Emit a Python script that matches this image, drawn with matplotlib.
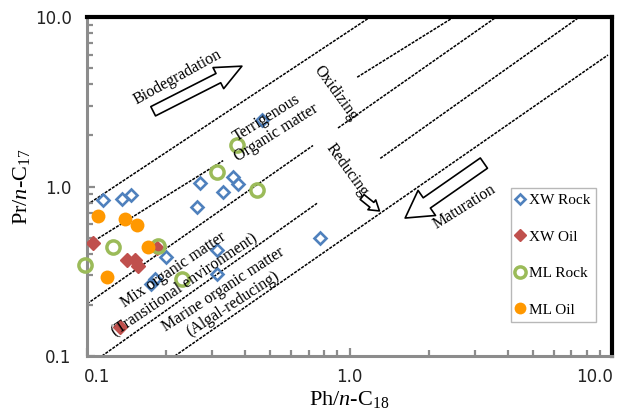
import numpy as np
import matplotlib
matplotlib.use("Agg")
import matplotlib.pyplot as plt
from matplotlib.ticker import FixedLocator, FixedFormatter, LogLocator, NullFormatter
from matplotlib.transforms import ScaledTranslation

plt.rcParams['font.family'] = ['Liberation Serif', 'DejaVu Serif']
plt.rcParams['mathtext.fontset'] = 'custom'
plt.rcParams['mathtext.rm'] = 'Liberation Serif'
plt.rcParams['mathtext.it'] = 'Liberation Serif:italic'

# Ph/n-C18 (x) and Pr/n-C17 (y)
xw_rock_ph = [0.115, 0.136, 0.147, 0.270, 0.262, 0.330, 0.360, 0.376, 0.464,
              0.200, 0.175, 0.182, 0.313, 0.313, 0.773]
xw_rock_pr = [0.827, 0.844, 0.891, 1.05, 0.752, 0.928, 1.14, 1.03, 2.47,
              0.384, 0.266, 0.285, 0.422, 0.305, 0.497]
xw_oil_ph = [0.105, 0.142, 0.152, 0.156, 0.185, 0.134]
xw_oil_pr = [0.464, 0.368, 0.368, 0.340, 0.434, 0.148]
ml_rock_ph = [0.098, 0.126, 0.186, 0.231, 0.313, 0.373, 0.445]
ml_rock_pr = [0.344, 0.437, 0.446, 0.285, 1.22, 1.76, 0.960]
ml_oil_ph = [0.110, 0.140, 0.155, 0.171, 0.119]
ml_oil_pr = [0.670, 0.643, 0.593, 0.440, 0.292]

# boundary lines: start/end points, plus the x stretch left blank for labels
line_x0 = [0.100, 0.100, 0.100, 0.114, 0.216]
line_y0 = [0.78, 0.45, 0.203, 0.100, 0.100]
line_x1 = [1.20, 2.50, 3.58, 7.42, 9.66]
line_y1 = [10.0, 10.0, 9.86, 9.86, 5.97]
line_gap = [None, (0.330, 1.07), (0.726, 0.904), (0.752, 1.31), None]

fig = plt.figure(figsize=(6.22, 4.17), dpi=100)
ax = fig.add_axes([0.1399, 0.1463, 0.844, 0.8129])
ax.set_xscale('log')
ax.set_yscale('log')
ax.set_xlim(0.1, 10)
ax.set_ylim(0.1, 10)

for x0, y0, x1, y1, gap in zip(line_x0, line_y0, line_x1, line_y1, line_gap):
    m = (np.log10(y1) - np.log10(y0)) / (np.log10(x1) - np.log10(x0))
    f = lambda x: y0 * (x / x0) ** m
    pieces = [(x0, x1)] if gap is None else [(x0, gap[0]), (gap[1], x1)]
    for a, b in pieces:
        ax.plot([a, b], [f(a), f(b)], color='black', lw=1.1,
                linestyle=(0, (2.0, 0.8)), zorder=1)

ax.plot(xw_rock_ph, xw_rock_pr, 'D', ms=6.3, mfc='none', mec='#4F81BD',
        mew=1.9, label='XW Rock', zorder=3)
ax.plot(xw_oil_ph, xw_oil_pr, 'D', ms=7.2, mfc='#C0504D', mec='#C0504D',
        mew=1, label='XW Oil', zorder=4)
ax.plot(ml_rock_ph, ml_rock_pr, 'o', ms=9.5, mfc='none', mec='#9BBB59',
        mew=2.5, label='ML Rock', zorder=5, clip_on=False)
ax.plot(ml_oil_ph, ml_oil_pr, 'o', ms=10, mfc='#FF9800', mec='#FF9800',
        mew=0, label='ML Oil', zorder=6)

# hollow arrows
def hollow_arrow(tail, head, hl, hw, tw):
    ax.annotate('', xy=head, xytext=tail, xycoords='axes fraction',
                textcoords='axes fraction',
                arrowprops=dict(arrowstyle=f'simple,head_length={hl},head_width={hw},tail_width={tw}',
                                fc='white', ec='black', lw=1.2,
                                shrinkA=0, shrinkB=0, mutation_scale=10))

hollow_arrow((0.126, 0.722), (0.295, 0.855), 1.9, 1.7, 0.75)
hollow_arrow((0.756, 0.569), (0.606, 0.407), 1.9, 2.2, 0.9)
hollow_arrow((0.524, 0.469), (0.557, 0.428), 0.7, 0.9, 0.45)

notes = [
    ('Biodegradation', 0.173, 0.823, 29),
    ('Terrigenous\nOrganic matter', 0.352, 0.681, 32),
    ('Oxidizing', 0.474, 0.776, -54),
    ('Reducing', 0.495, 0.549, -54),
    ('Maturation', 0.720, 0.440, 32),
    ('Mix organic matter\n(Transitional environment)', 0.175, 0.233, 34),
    ('Marine organic matter\n(Algal-reducing)', 0.269, 0.174, 33),
]
for txt, x, y, rot in notes:
    ax.text(x, y, txt, transform=ax.transAxes, rotation=rot, fontsize=11.5,
            ha='center', va='center', rotation_mode='anchor',
            multialignment='center', linespacing=1.15, zorder=7)

# axes styling
for side in ['left', 'bottom']:
    ax.spines[side].set_color('#8C8C8C')
    ax.spines[side].set_linewidth(2.2)
for side in ['top', 'right']:
    ax.spines[side].set_color('black')
    ax.spines[side].set_linewidth(3)

for axis in [ax.xaxis, ax.yaxis]:
    axis.set_major_locator(FixedLocator([0.1, 1, 10]))
    axis.set_major_formatter(FixedFormatter(['0.1', '1.0', '10.0']))
    axis.set_minor_locator(LogLocator(base=10, subs=np.arange(2, 10)))
    axis.set_minor_formatter(NullFormatter())

ax.tick_params(which='both', direction='in', color='#8C8C8C', width=1.6,
               top=False, right=False)
ax.tick_params(which='major', length=6)
ax.tick_params(which='minor', length=4.5)
ax.tick_params(axis='both', labelsize=12, labelfontfamily='DejaVu Sans',
               labelcolor='#222222')
ax.tick_params(axis='y', pad=11)
ax.tick_params(axis='x', pad=9)

xl = ax.get_xticklabels()
xl[0].set_transform(xl[0].get_transform() + ScaledTranslation(0.10, 0, fig.dpi_scale_trans))
xl[-1].set_transform(xl[-1].get_transform() + ScaledTranslation(-0.17, 0, fig.dpi_scale_trans))

ax.set_xlabel(r'Ph/$\mathit{n}$-C$_{18}$', fontsize=16, labelpad=2)
ax.set_ylabel(r'Pr/$\mathit{n}$-C$_{17}$', fontsize=16, labelpad=2)

leg = ax.legend(loc='upper left', bbox_to_anchor=(0.808, 0.496), borderaxespad=0,
                fontsize=11, frameon=True, fancybox=False, edgecolor='#A6A6A6',
                handlelength=0.5, handletextpad=0.3, borderpad=0.35,
                labelspacing=1.5, markerscale=0.85)
leg.get_frame().set_linewidth(1)
leg.set_zorder(10)

fig.savefig('out.png', dpi=100)
